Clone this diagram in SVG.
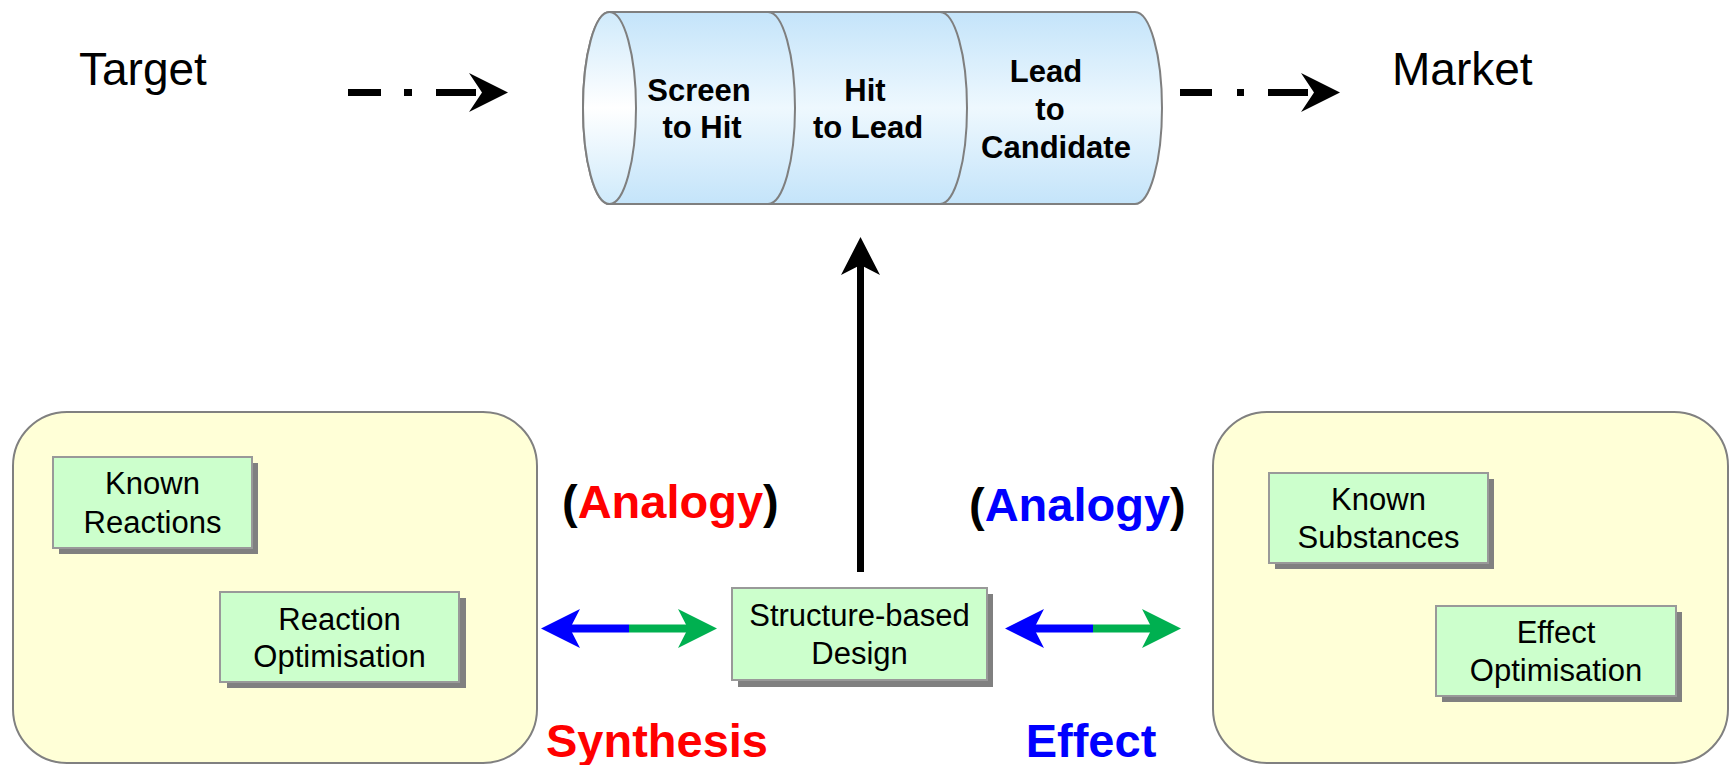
<svg xmlns="http://www.w3.org/2000/svg" width="1731" height="765" viewBox="0 0 1731 765">
  <defs>
    <linearGradient id="tubeFill" x1="0" y1="0" x2="0" y2="1">
      <stop offset="0" stop-color="#c4e4fa"/>
      <stop offset="0.5" stop-color="#eef8fe"/>
      <stop offset="1" stop-color="#c4e4fa"/>
    </linearGradient>
    <linearGradient id="capFill" x1="0" y1="0" x2="0" y2="1">
      <stop offset="0" stop-color="#cfeafb"/>
      <stop offset="0.5" stop-color="#ffffff"/>
      <stop offset="1" stop-color="#cfeafb"/>
    </linearGradient>
  </defs>
  <style>
    .title { font-family: "Liberation Sans", Arial, sans-serif; font-size: 46px; fill: #000; }
    .stage { font-family: "Liberation Sans", Arial, sans-serif; font-size: 31px; font-weight: bold; fill: #000; text-anchor: middle; }
    .label { font-family: "Liberation Sans", Arial, sans-serif; font-size: 31px; fill: #000; text-anchor: middle; }
    .big { font-family: "Liberation Sans", Arial, sans-serif; font-size: 47px; font-weight: bold; }
    .panel { fill: #ffffd7; stroke: #808080; stroke-width: 2; }
    .card { fill: #ccffcc; stroke: #999999; stroke-width: 2; }
    .shadow { fill: #808080; }
    .tube { fill: url(#tubeFill); stroke: #7f7f7f; stroke-width: 2; }
    .seam { fill: none; stroke: #7f7f7f; stroke-width: 2; }
  </style>

  <!-- pipeline cylinder -->
  <g id="pipeline">
    <path class="tube" d="M609.5,12 L1135,12 A27,96 0 0 1 1135,204 L609.5,204 A26.5,96 0 0 1 609.5,12 Z"/>
    <path class="seam" d="M768,12 A27,96 0 0 1 768,204"/>
    <path class="seam" d="M940,12 A27,96 0 0 1 940,204"/>
    <ellipse cx="609.5" cy="108" rx="26.5" ry="96" fill="url(#capFill)" stroke="#7f7f7f" stroke-width="2"/>
    <g id="stage-screen">
      <text class="stage" x="699" y="101">Screen</text>
      <text class="stage" x="702" y="138">to Hit</text>
    </g>
    <g id="stage-hit">
      <text class="stage" x="865" y="101">Hit</text>
      <text class="stage" x="868" y="138">to Lead</text>
    </g>
    <g id="stage-lead">
      <text class="stage" x="1046" y="82">Lead</text>
      <text class="stage" x="1050" y="120">to</text>
      <text class="stage" x="1056" y="158">Candidate</text>
    </g>
  </g>

  <g id="target"><text class="title" x="79" y="85">Target</text></g>
  <g id="market"><text class="title" x="1392" y="85">Market</text></g>

  <!-- synthesis panel -->
  <g id="synthesis-panel">
    <rect class="panel" x="13" y="412" width="524" height="351" rx="54" ry="54"/>
  </g>
  <g id="known-reactions">
    <rect class="shadow" x="59" y="463" width="199" height="91"/>
    <rect class="card" x="53" y="457" width="199" height="91"/>
    <text class="label" x="152.5" y="494">Known</text>
    <text class="label" x="152.5" y="533">Reactions</text>
  </g>
  <g id="reaction-optimisation">
    <rect class="shadow" x="227" y="598" width="239" height="90"/>
    <rect class="card" x="220" y="592" width="239" height="90"/>
    <text class="label" x="339.5" y="630">Reaction</text>
    <text class="label" x="339.5" y="667">Optimisation</text>
  </g>

  <!-- effect panel -->
  <g id="effect-panel">
    <rect class="panel" x="1213" y="412" width="515" height="351" rx="54" ry="54"/>
  </g>
  <g id="known-substances">
    <rect class="shadow" x="1275" y="479" width="219" height="90"/>
    <rect class="card" x="1269" y="473" width="219" height="90"/>
    <text class="label" x="1378.5" y="510">Known</text>
    <text class="label" x="1378.5" y="548">Substances</text>
  </g>
  <g id="effect-optimisation">
    <rect class="shadow" x="1442" y="612" width="240" height="90"/>
    <rect class="card" x="1436" y="606" width="240" height="90"/>
    <text class="label" x="1556" y="643">Effect</text>
    <text class="label" x="1556" y="681">Optimisation</text>
  </g>

  <!-- central design step -->
  <g id="structure-based-design">
    <rect class="shadow" x="738" y="594" width="255" height="93"/>
    <rect class="card" x="732" y="588" width="255" height="92"/>
    <text class="label" x="859.5" y="626">Structure-based</text>
    <text class="label" x="859.5" y="664">Design</text>
  </g>

  <!-- captions -->
  <g id="analogy-left">
    <text class="big" x="562" y="518"><tspan fill="#000">(</tspan><tspan fill="#ff0000">Analogy</tspan><tspan fill="#000">)</tspan></text>
  </g>
  <g id="analogy-right">
    <text class="big" x="969" y="521"><tspan fill="#000">(</tspan><tspan fill="#0000ff">Analogy</tspan><tspan fill="#000">)</tspan></text>
  </g>
  <g id="synthesis-label"><text class="big" x="657" y="757" fill="#ff0000" text-anchor="middle">Synthesis</text></g>
  <g id="effect-label"><text class="big" x="1091" y="757" fill="#0000ff" text-anchor="middle">Effect</text></g>

  <!-- connectors -->
  <g id="connectors">
    <!-- Target to pipeline -->
    <rect x="348" y="89" width="33" height="7" fill="#000"/>
    <rect x="404" y="89" width="8" height="7" fill="#000"/>
    <rect x="436" y="89" width="40" height="7" fill="#000"/>
    <polygon points="469,73 508,92.5 469,112 482,92.5" fill="#000"/>
    <!-- pipeline to Market -->
    <rect x="1180" y="89" width="32" height="7" fill="#000"/>
    <rect x="1237" y="89" width="7" height="7" fill="#000"/>
    <rect x="1268" y="89" width="40" height="7" fill="#000"/>
    <polygon points="1301,73 1340,92.5 1301,112 1314,92.5" fill="#000"/>
    <!-- design feeds the pipeline -->
    <rect x="857" y="262" width="7" height="310" fill="#000"/>
    <polygon points="860.5,237 880,275 860.5,265 841,275" fill="#000"/>
    <!-- synthesis exchange -->
    <rect x="565" y="624.5" width="64" height="8" fill="#0000ff"/>
    <polygon points="541,628.5 580,609 570,628.5 580,648" fill="#0000ff"/>
    <rect x="629" y="624.5" width="62" height="8" fill="#00b050"/>
    <polygon points="717,628.5 678,609 688,628.5 678,648" fill="#00b050"/>
    <!-- effect exchange -->
    <rect x="1029" y="624.5" width="64" height="8" fill="#0000ff"/>
    <polygon points="1005,628.5 1044,609 1034,628.5 1044,648" fill="#0000ff"/>
    <rect x="1093" y="624.5" width="62" height="8" fill="#00b050"/>
    <polygon points="1181,628.5 1142,609 1152,628.5 1142,648" fill="#00b050"/>
  </g>
</svg>
